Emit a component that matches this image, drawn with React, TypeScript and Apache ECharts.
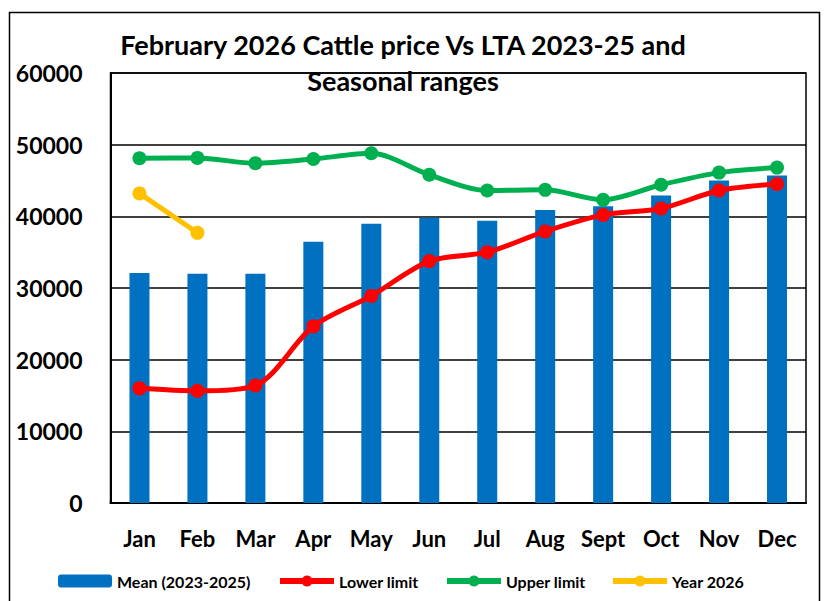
import React, { useEffect, useRef } from "react";
import * as echarts from "echarts";

const months = ["Jan", "Feb", "Mar", "Apr", "May", "Jun", "Jul", "Aug", "Sept", "Oct", "Nov", "Dec"];
const meanValues = [32100, 32000, 32000, 36450, 38950, 39800, 39400, 40900, 41400, 42900, 45000, 45700];
const lowerLimit = [16000, 15650, 16400, 24650, 28900, 33750, 35000, 37900, 40200, 41100, 43600, 44500];
const upperLimit = [48100, 48150, 47400, 48000, 48800, 45800, 43600, 43700, 42300, 44400, 46100, 46800];
const year2026 = [43200, 37700, null, null, null, null, null, null, null, null, null, null];
const titleText = "February 2026 Cattle price Vs LTA 2023-25 and\nSeasonal ranges";

const FONT = "Lato, 'Open Sans', sans-serif";

export default function App() {
  const ref = useRef<HTMLDivElement>(null);
  useEffect(() => {
    if (!ref.current) return;
    const chart = echarts.init(ref.current, undefined, { renderer: "svg" });
    const legendText = { fontFamily: FONT, fontWeight: "bold", fontSize: 16, color: "#000" };
    chart.setOption({
      animation: false,
      backgroundColor: "#fff",
      title: {
        text: titleText,
        left: 398,
        top: 21,
        textAlign: "center",
        textStyle: { fontFamily: FONT, fontWeight: "bold", fontSize: 27, color: "#000", lineHeight: 36 },
      },
      grid: {
        left: 110.5,
        right: 19,
        top: 73,
        bottom: 98,
        show: true,
        borderColor: "#000",
        borderWidth: 1.5,
        backgroundColor: "transparent",
      },
      legend: [
        { data: ["Mean (2023-2025)"], left: 58, itemHeight: 13 },
        { data: ["Lower limit"], left: 277, itemHeight: 14 },
        { data: ["Upper limit"], left: 444, itemHeight: 14 },
        { data: ["Year 2026"], left: 610, itemHeight: 14 },
      ].map((l) => ({
        ...l,
        top: 573,
        padding: 0,
        itemWidth: 54,
        itemGap: 4,
        lineStyle: { width: 6 },
        textStyle: legendText,
      })),
      xAxis: {
        type: "category",
        data: months,
        axisTick: { show: false },
        axisLine: { lineStyle: { color: "#000", width: 2 } },
        axisLabel: { fontFamily: FONT, fontWeight: "bold", fontSize: 22, color: "#000", margin: 24 },
      },
      yAxis: {
        type: "value",
        min: 0,
        max: 60000,
        interval: 10000,
        axisLine: { show: true, lineStyle: { color: "#000", width: 2 } },
        axisTick: { show: false },
        splitLine: { lineStyle: { color: "#000", width: 1.5 } },
        axisLabel: {
          fontFamily: FONT,
          fontWeight: "bold",
          fontSize: 23,
          color: "#000",
          margin: 28,
          formatter: (v: number) => String(v),
        },
      },
      series: [
        {
          name: "Mean (2023-2025)",
          type: "bar",
          data: meanValues,
          barWidth: 20,
          itemStyle: { color: "#0070C0" },
        },
        {
          name: "Lower limit",
          type: "line",
          data: lowerLimit,
          smooth: 0.3,
          symbol: "circle",
          symbolSize: 14,
          lineStyle: { color: "#FF0000", width: 5 },
          itemStyle: { color: "#FF0000" },
        },
        {
          name: "Upper limit",
          type: "line",
          data: upperLimit,
          smooth: 0.3,
          symbol: "circle",
          symbolSize: 14,
          lineStyle: { color: "#00B050", width: 5 },
          itemStyle: { color: "#00B050" },
        },
        {
          name: "Year 2026",
          type: "line",
          data: year2026,
          symbol: "circle",
          symbolSize: 14,
          lineStyle: { color: "#FFC000", width: 5 },
          itemStyle: { color: "#FFC000" },
        },
      ],
      graphic: [
        {
          type: "rect",
          shape: { x: 9.5, y: 12.5, width: 810, height: 620 },
          style: { fill: "none", stroke: "#000", lineWidth: 1.5 },
          silent: true,
        },
      ],
    });
    return () => chart.dispose();
  }, []);
  return <div ref={ref} style={{ position: "absolute", left: 0, top: 0, width: 825, height: 601 }} />;
}
